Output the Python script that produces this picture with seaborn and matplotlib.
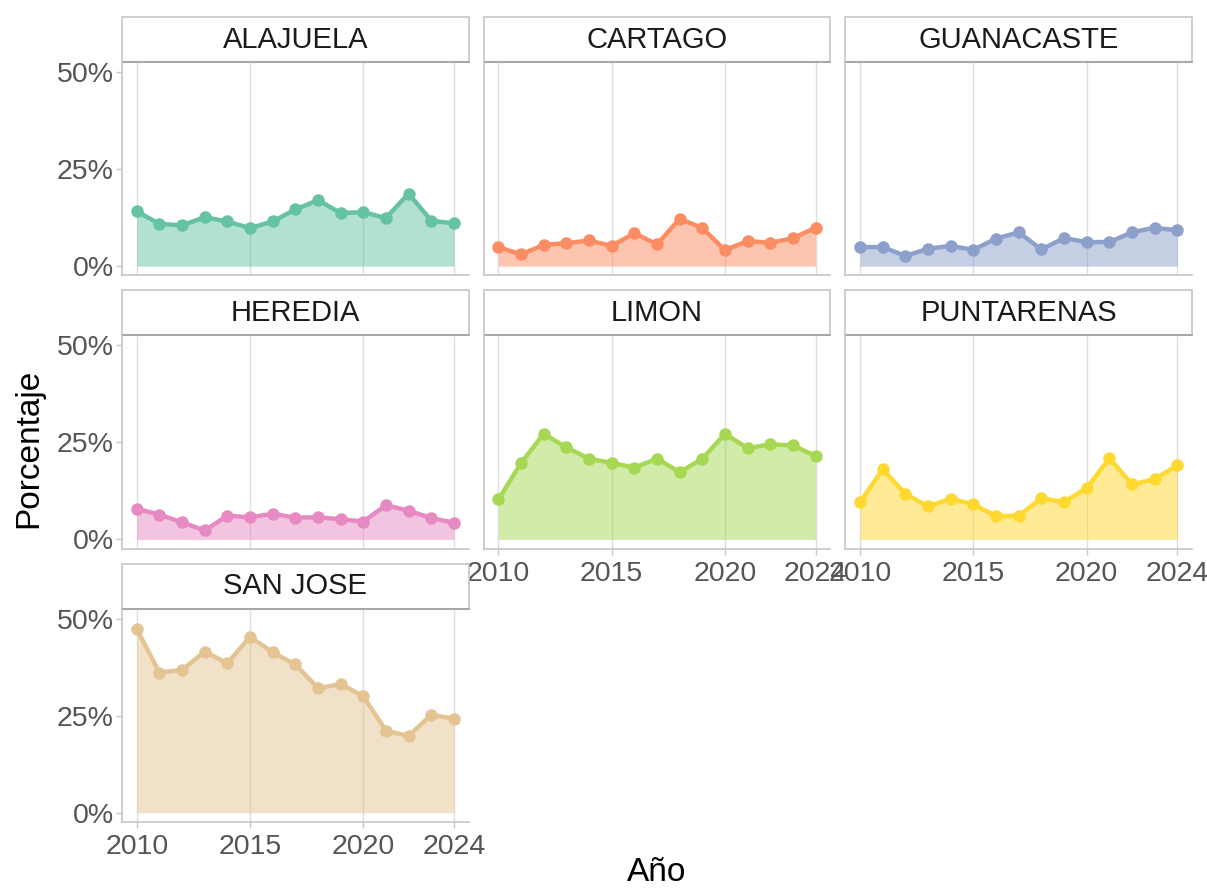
import pandas as pd
import seaborn as sns
import matplotlib.pyplot as plt
from matplotlib.patches import Rectangle
from matplotlib.ticker import FuncFormatter

# Values (percent)
anios = list(range(2010, 2025))
provincias = ['ALAJUELA', 'CARTAGO', 'GUANACASTE', 'HEREDIA', 'LIMON', 'PUNTARENAS', 'SAN JOSE']
alajuela = [14.1, 10.9, 10.5, 12.6, 11.5, 9.8, 11.5, 14.6, 17.0, 13.7, 13.9, 12.4, 18.7, 11.7, 11.0]
cartago = [4.9, 3.0, 5.5, 5.9, 6.6, 5.2, 8.5, 5.6, 12.2, 9.8, 4.1, 6.5, 6.0, 7.2, 9.9]
guanacaste = [4.9, 4.9, 2.6, 4.5, 5.2, 4.2, 7.1, 8.7, 4.3, 7.2, 6.2, 6.2, 8.7, 9.9, 9.2]
heredia = [7.9, 6.4, 4.4, 2.3, 6.1, 5.7, 6.6, 5.6, 5.7, 5.2, 4.6, 8.8, 7.4, 5.5, 4.3]
limon = [10.3, 19.7, 27.2, 23.7, 20.8, 19.7, 18.5, 20.8, 17.3, 20.8, 27.2, 23.5, 24.5, 24.2, 21.5]
puntarenas = [9.6, 18.1, 11.7, 8.5, 10.5, 9.0, 6.0, 6.1, 10.6, 9.6, 13.2, 20.9, 14.2, 15.5, 19.1]
san_jose = [47.3, 36.1, 36.8, 41.5, 38.5, 45.3, 41.3, 38.2, 32.1, 33.1, 30.0, 21.1, 19.8, 25.2, 24.2]

series = [alajuela, cartago, guanacaste, heredia, limon, puntarenas, san_jose]
df = pd.DataFrame({
    'provincia': [p for p in provincias for _ in anios],
    'anio': anios * len(provincias),
    'pct': [v for s in series for v in s],
})

sns.set_theme(style='whitegrid')
plt.rcParams['font.family'] = ['Liberation Sans', 'DejaVu Sans']


def draw(data, color, **kws):
    ax = plt.gca()
    ax.fill_between(data['anio'], data['pct'], color=color, alpha=0.5, lw=0)
    sns.lineplot(data=data, x='anio', y='pct', color=color, lw=3.2,
                 marker='o', markersize=9, markeredgewidth=0, ax=ax)


g = sns.FacetGrid(df, col='provincia', hue='provincia', col_wrap=3,
                  palette='Set2', sharex=True, sharey=True,
                  height=3, aspect=1.35)
g.map_dataframe(draw)
g.set_titles('')
g.set_axis_labels('', '')

fig = g.figure
fig.set_size_inches(12.07, 8.92)
fig.subplots_adjust(left=0.1011, right=0.9876, bottom=0.0785, top=0.9305,
                    wspace=0.0434, hspace=0.2804)

bottom_row = {'LIMON', 'PUNTARENAS', 'SAN JOSE'}
left_col = {'ALAJUELA', 'HEREDIA', 'SAN JOSE'}

for ax, name in zip(g.axes.flat, provincias):
    ax.set_xlim(2009.35, 2024.65)
    ax.set_ylim(-2.4, 52.6)
    ax.set_xticks([2010, 2015, 2020, 2024])
    ax.set_yticks([0, 25, 50])
    ax.yaxis.set_major_formatter(FuncFormatter(lambda v, p: f'{v:.0f}%'))
    ax.grid(axis='y', visible=False)
    ax.grid(axis='x', color='#dedede', lw=1)
    for sp in ax.spines.values():
        sp.set_color('#c6c6c6')
        sp.set_linewidth(1.2)
    ax.tick_params(axis='both', labelsize=20.5, colors='#c6c6c6', labelcolor='#555555',
                   length=4, width=1, pad=2)
    ax.tick_params(axis='x', bottom=name in bottom_row, pad=5)
    ax.tick_params(axis='y', left=name in left_col)
    strip = Rectangle((0, 1), 1, 0.21, transform=ax.transAxes, clip_on=False,
                      facecolor='white', edgecolor='#c6c6c6', lw=1.2)
    ax.add_patch(strip)
    ax.plot([0, 1], [1, 1], transform=ax.transAxes, color='#a8a8a8', lw=1.5, clip_on=False)
    ax.text(0.5, 1.105, name, transform=ax.transAxes, ha='center', va='center',
            fontsize=21, color='#1a1a1a')

fig.text(0.024, 0.497, 'Porcentaje', rotation=90, ha='center', va='center',
         fontsize=24, color='black')
fig.text(0.544, 0.004, 'Año', ha='center', va='bottom', fontsize=24, color='black')

fig.savefig('out.png', dpi=100)
